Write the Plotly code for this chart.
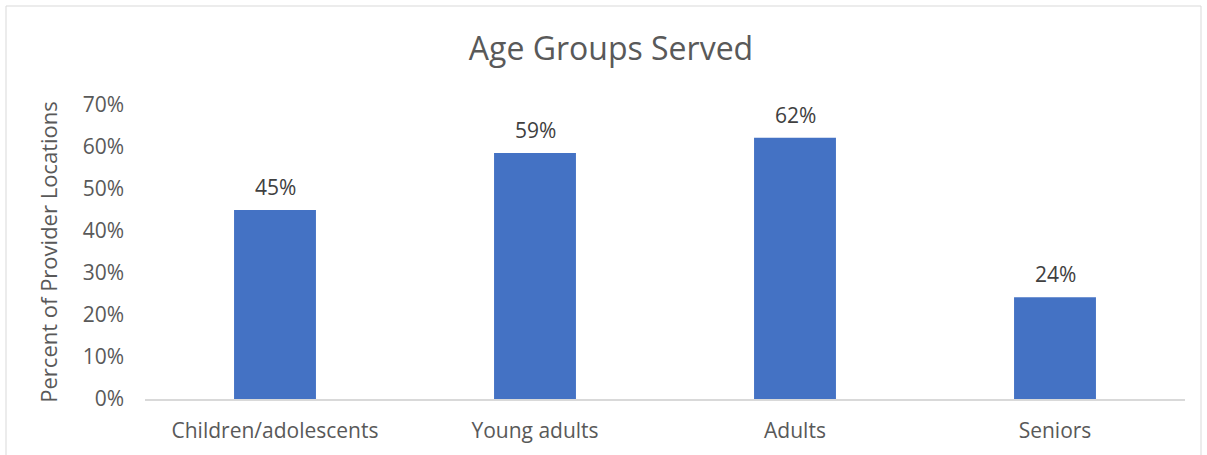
import plotly.graph_objects as go

categories = ["Children/adolescents", "Young adults", "Adults", "Seniors"]
values = [0.45, 0.586, 0.622, 0.242]
labels = ["45%", "59%", "62%", "24%"]
tick_vals = [0, 0.1, 0.2, 0.3, 0.4, 0.5, 0.6, 0.7]

FONT = "'Open Sans', sans-serif"

fig = go.Figure(go.Bar(
    x=categories, y=values,
    marker=dict(color="#4472C4", line=dict(width=0)),
    hoverinfo="x+y",
))

for c, v, t in zip(categories, values, labels):
    fig.add_annotation(x=c, y=v, text=t, showarrow=False,
                       yanchor="middle", yshift=23,
                       font=dict(size=21, color="#404040", family=FONT))

L, R, T, B = 145, 22, 105, 56
W, H = 1207, 455
pw, ph = W - L - R, H - T - B

fig.update_layout(
    width=W, height=H,
    margin=dict(l=L, r=R, t=T, b=B, autoexpand=False),
    paper_bgcolor="white", plot_bgcolor="white",
    bargap=0.685,
    showlegend=False,
    title=dict(text="Age Groups Served", x=(611) / W, xanchor="center",
               y=1 - 49 / H, yanchor="middle",
               font=dict(size=32, color="#595959", family=FONT)),
    font=dict(family=FONT, color="#595959"),
    xaxis=dict(showline=True, linecolor="#d9d9d9", linewidth=1.5,
               ticks="", tickfont=dict(size=21, color="#595959"),
               ticklabelstandoff=12, showgrid=False, automargin=False),
    yaxis=dict(range=[0, 0.7], tickvals=tick_vals, tickformat=".0%",
               showgrid=False, zeroline=False, showline=False,
               tickfont=dict(size=21, color="#595959"),
               ticklabelstandoff=20, automargin=False,
               title=dict(text="Percent of Provider Locations",
                          font=dict(size=22, color="#595959"), standoff=18)),
    shapes=[dict(type="rect", xref="paper", yref="paper",
                 x0=(6 - L) / pw, x1=(1201 - L) / pw,
                 y0=(H - T - 460) / ph, y1=(H - B - 6) / ph,
                 line=dict(color="#d9d9d9", width=1), layer="below")],
)

fig.write_html("out.html", config={"displayModeBar": False},
               post_script="document.body.style.margin='0';")
